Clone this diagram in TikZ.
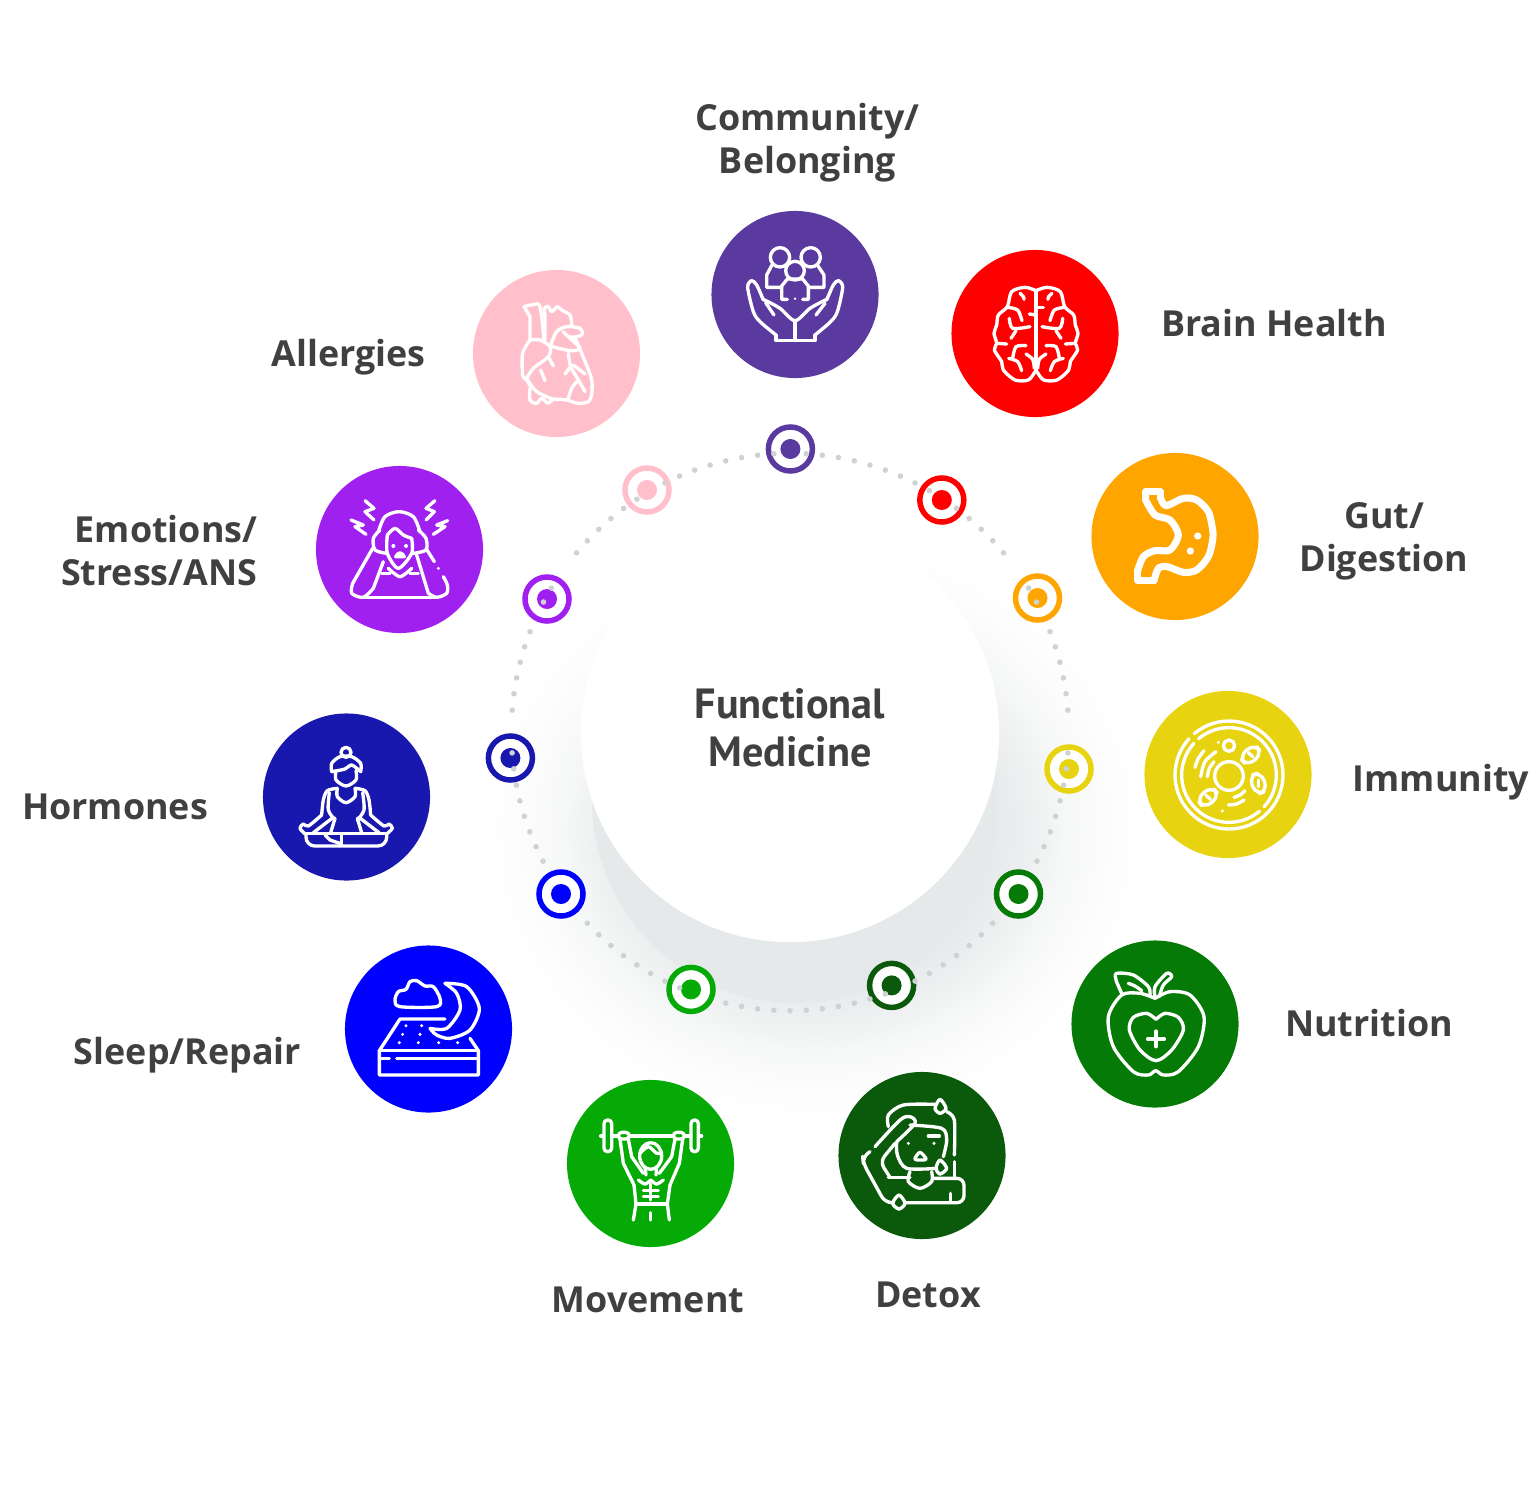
\documentclass[tikz,border=0pt]{standalone}
\usepackage{fontspec}
\usepackage{xcolor}
\usepackage{tikz}
\setmainfont{Open Sans}
\newfontfamily\hubfont{PT Sans}
\usetikzlibrary{positioning}

\definecolor{labelgrey}{HTML}{404042}
\definecolor{dotgrey}{HTML}{CFD2D3}
\definecolor{dishgrey}{HTML}{E6E9EA}
\definecolor{communityc}{HTML}{5A3A9F}
\definecolor{brainc}{HTML}{FF0000}
\definecolor{gutc}{HTML}{FFA500}
\definecolor{immunityc}{HTML}{E8D310}
\definecolor{nutritionc}{HTML}{067A06}
\definecolor{detoxc}{HTML}{0B5A0B}
\definecolor{movementc}{HTML}{06AA06}
\definecolor{sleepc}{HTML}{0000FF}
\definecolor{hormonesc}{HTML}{1818AE}
\definecolor{emotionsc}{HTML}{A020F0}
\definecolor{allergiesc}{HTML}{FFC0CB}

\pgfdeclareradialshading{softshadow}{\pgfpoint{0bp}{0bp}}{
  color(0bp)=(dishgrey); color(12.85bp)=(dishgrey); color(15.45bp)=(dishgrey!75!white);
  color(18.4bp)=(dishgrey!35!white); color(22bp)=(dishgrey!10!white); color(25bp)=(white); color(50bp)=(white)}

\begin{document}
\begin{tikzpicture}[
    x=0.01cm, y=-0.01cm,
    bigdisc/.style={circle, minimum size=1.67cm, inner sep=0pt, outer sep=0pt},
    ringmark/.style={circle, minimum size=0.44cm, inner sep=0pt, fill=white, line width=1.56pt},
    markdot/.style={circle, minimum size=0.2cm, inner sep=0pt},
    ringdot/.style={fill=dotgrey},
    labeltext/.style={align=center, text=labelgrey, inner sep=0pt, font=\fontsize{10.2}{12.25}\selectfont\bfseries},
    hubtext/.style={align=center, text=labelgrey, inner sep=0pt, font=\fontsize{12}{13.6}\selectfont\hubfont\bfseries},
    iconline/.style={draw=white, line width=0.95pt, line cap=round, line join=round},
    icondot/.style={fill=white},
    iconzoom/.style={shift={#1}, scale=0.33333}
]
    \useasboundingbox (0,0) rectangle (1537,1500);

    % Shadow under the middle disc
    \path[shading=softshadow] (815,830) ellipse (340 and 300);
    \fill[dishgrey] (795,800) circle (203);
    \node[circle, fill=white, minimum size=4.18cm, inner sep=0pt] (hubdisc) at (790,733) {};
    \node[hubtext] (hub) at (790,728) {Functional\\Medicine};

    % Discs
    \node[bigdisc, fill=communityc] (community) at (795,294.5) {};
    \node[bigdisc, fill=brainc] (brain) at (1035,333.5) {};
    \node[bigdisc, fill=gutc] (gut) at (1175,536.5) {};
    \node[bigdisc, fill=immunityc] (immunity) at (1228,774.5) {};
    \node[bigdisc, fill=nutritionc] (nutrition) at (1155,1024) {};
    \node[bigdisc, fill=detoxc] (detox) at (922,1155.5) {};
    \node[bigdisc, fill=movementc] (movement) at (650.5,1163.5) {};
    \node[bigdisc, fill=sleepc] (sleep) at (428.5,1029) {};
    \node[bigdisc, fill=hormonesc] (hormones) at (346.5,797) {};
    \node[bigdisc, fill=emotionsc] (emotions) at (399.5,549.5) {};
    \node[bigdisc, fill=allergiesc] (allergies) at (556.5,353.5) {};

    % Labels
    \node[labeltext] (communitytext) at (807.5,143) {Community/\\Belonging};
    \node[labeltext] (braintext) at (1274,323) {Brain Health};
    \node[labeltext] (guttext) at (1384,541) {Gut/\\Digestion};
    \node[labeltext] (immunitytext) at (1441,782) {Immunity};
    \node[labeltext] (nutritiontext) at (1369,1023) {Nutrition};
    \node[labeltext] (detoxtext) at (928,1295) {Detox};
    \node[labeltext] (movementtext) at (648,1300) {Movement};
    \node[labeltext] (sleeptext) at (187.5,1055) {Sleep/Repair};
    \node[labeltext] (hormonestext) at (115,807) {Hormones};
    \node[labeltext, align=right, anchor=east] (emotionstext) at (258,551) {Emotions/\\Stress/ANS};
    \node[labeltext] (allergiestext) at (348.5,357) {Allergies};

    % Ring marks
    \node[ringmark, draw=communityc] (markcommunity) at (790.4,449) {};
    \node[ringmark, draw=brainc] (markbrain) at (941.8,500) {};
    \node[ringmark, draw=gutc] (markgut) at (1037.5,598) {};
    \node[ringmark, draw=immunityc] (markimmunity) at (1069,769) {};
    \node[ringmark, draw=nutritionc] (marknutrition) at (1018.5,894) {};
    \node[ringmark, draw=detoxc] (markdetox) at (891.6,985.4) {};
    \node[ringmark, draw=movementc] (markmovement) at (691,989.4) {};
    \node[ringmark, draw=sleepc] (marksleep) at (561,894) {};
    \node[ringmark, draw=hormonesc] (markhormones) at (510.4,758) {};
    \node[ringmark, draw=emotionsc] (markemotions) at (547,599) {};
    \node[ringmark, draw=allergiesc] (markallergies) at (647,490) {};
    \node[markdot, fill=communityc] (dotcommunity) at (markcommunity) {};
    \node[markdot, fill=brainc] (dotbrain) at (markbrain) {};
    \node[markdot, fill=gutc] (dotgut) at (markgut) {};
    \node[markdot, fill=immunityc] (dotimmunity) at (markimmunity) {};
    \node[markdot, fill=nutritionc] (dotnutrition) at (marknutrition) {};
    \node[markdot, fill=detoxc] (dotdetox) at (markdetox) {};
    \node[markdot, fill=movementc] (dotmovement) at (markmovement) {};
    \node[markdot, fill=sleepc] (dotsleep) at (marksleep) {};
    \node[markdot, fill=hormonesc] (dothormones) at (markhormones) {};
    \node[markdot, fill=emotionsc] (dotemotions) at (markemotions) {};
    \node[markdot, fill=allergiesc] (dotallergies) at (markallergies) {};

    % Dotted ring
    \begin{scope}[shift={(790,732)}]
        \foreach \k in {-15,-14,-13,-12,-11,-10,-8,-7,-6,-5,-4,-3,-2,-1,1,2,3,4,5,6,7,8,9,11,12,13,14,15}
            \fill[ringdot] (\k*3.3333-90:278.7) circle (2.8);
        \foreach \k in {-14,-13,-12,-11,-10,-9,-8,-7,-4,-3,-2,-1,0,1,2,3,4,5,6,8,9,10,11,12,13,14}
            \fill[ringdot] (90-\k*3.3333:278.7) circle (2.8);
        \foreach \a in {58.9,62.2,68.9,72.2,75.5,78.8,82.1,85.5} {
            \fill[ringdot] (\a-90:278.7) circle (2.8);
            \fill[ringdot] (-\a-90:278.7) circle (2.8);
        }
        \foreach \a in {62.4,65.7,69,72.4,75.7,79,82.4,85.7} {
            \fill[ringdot] (90-\a:278.7) circle (2.8);
            \fill[ringdot] (90+\a:278.7) circle (2.8);
        }
    \end{scope}

    % Community icon
    \begin{scope}[iconzoom={(700,200)}]
        \draw[iconline] (240,172) circle (29);
        \draw[iconline] (332,172) circle (29);
        \draw[iconline, fill=communityc] (285,212) circle (28);
        \draw[iconline] (216,195) -- (200,225) -- (200,262) -- (245,262);
        \draw[iconline] (352,195) -- (372,225) -- (372,262) -- (325,262);
        \draw[iconline] (262,298) -- (245,298) -- (245,258) -- (262,237) -- (308,237) -- (325,258) -- (325,298) -- (308,298);
        \fill[icondot] (285,296) circle (4);
        \draw[iconline] (228,405) -- (228,422) -- (345,422) -- (345,405);
        \draw[iconline] (285,420) -- (285,362);
        \draw[iconline, smooth] plot coordinates {(228,405) (180,365) (160,335) (143,262) (155,242) (170,255) (190,300)};
        \draw[iconline, smooth] plot coordinates {(190,298) (240,325) (285,362) (330,325) (380,298)};
        \draw[iconline, smooth] plot coordinates {(345,405) (392,365) (412,335) (428,262) (415,242) (400,255) (380,300)};
        \draw[iconline] (197,308) -- (222,345);
        \draw[iconline] (375,310) -- (348,345);

        % Brain icon
        \draw[iconline] (1008,272) -- (1008,515);
        \foreach \mirror in {1,-1} {
            \begin{scope}[shift={(1008,0)}, xscale=\mirror]
                \draw[iconline, smooth] plot coordinates {(0,272) (-33,262) (-73,275) (-86,320) (-113,345) (-118,375) (-126,400) (-118,430) (-125,450) (-103,485) (-98,510) (-63,540) (-23,540) (-3,515)};
                \draw[iconline, smooth] plot coordinates {(-48,280) (-38,290) (-36,298)};
                \draw[iconline, smooth] plot coordinates {(-86,322) (-55,330) (-42,362)};
                \draw[iconline, smooth] plot coordinates {(-80,355) (-70,385) (-18,380)};
                \draw[iconline] (-60,392) -- (-75,415);
                \draw[iconline] (-118,430) -- (-88,432);
                \draw[iconline, smooth] plot coordinates {(-30,437) (-60,440) (-70,475)};
                \draw[iconline, smooth] plot coordinates {(-82,475) (-55,485) (-43,512)};
                \draw[iconline, smooth] plot coordinates {(-30,462) (-10,478) (-5,505)};
            \end{scope}
        }
        \draw[iconline] (988,342) -- (1008,345);
        \draw[iconline] (1008,322) -- (1030,322);
    \end{scope}

    % Stomach and cell icons
    \begin{scope}[iconzoom={(1080,440)}]
        \draw[iconline, line width=2pt, smooth] plot coordinates {(241,172) (258,197) (310,175) (350,180) (385,215) (398,270) (398,300) (385,350) (350,390) (310,397) (262,380) (235,385) (222,422)};
        \draw[iconline, line width=2pt] (241,172) -- (241,155) -- (197,155) -- (197,180);
        \draw[iconline, line width=2pt] (222,422) -- (172,422) -- (172,395);
        \draw[iconline, line width=2pt, smooth] plot coordinates {(172,395) (190,350) (225,332) (270,330) (295,285) (270,240) (225,225) (197,180)};
        \fill[icondot] (353,288) circle (11);
        \fill[icondot] (331,333) circle (11);

        \draw[iconline] (447,1005) ++(-130:162) arc (-130:222:162);
        \draw[iconline] (447,1005) ++(50:142) arc (50:222:142);
        \draw[iconline] (447,1005) ++(-130:142) arc (-130:42:142);
        \draw[iconline] (447,1008) circle (43);
        \draw[iconline] (447,917) circle (17);
        \fill[icondot] (415,907) circle (5);
        \fill[icondot] (427,1113) circle (5);
        \draw[iconline, rotate around={40:(512,945)}, rounded corners=2.5pt] (482,926) rectangle (542,964);
        \draw[iconline, rotate around={-70:(535,1030)}, rounded corners=2.5pt] (505,1011) rectangle (565,1049);
        \draw[iconline, rotate around={40:(384,1072)}, rounded corners=2.5pt] (354,1053) rectangle (414,1091);
        \draw[iconline] (505,938) -- (518,950);
        \draw[iconline] (535,1020) -- (535,1040);
        \draw[iconline] (377,1065) -- (391,1078);
        \draw[iconline, smooth] plot coordinates {(345,982) (355,955) (372,932)};
        \draw[iconline, smooth] plot coordinates {(362,1010) (375,965) (408,935)};
        \draw[iconline, smooth] plot coordinates {(382,1010) (388,985) (402,965)};
        \draw[iconline, smooth] plot coordinates {(445,1095) (470,1092) (492,1080)};
        \draw[iconline, smooth] plot coordinates {(462,1072) (480,1065) (495,1052)};
    \end{scope}

    % Heart and stressed head icons
    \begin{scope}[iconzoom={(300,260)}]
        \draw[iconline] (690,240) -- (690,170) -- (672,140);
        \draw[iconline, smooth] plot coordinates {(672,140) (700,134) (720,140) (732,240)};
        \draw[iconline, smooth] plot coordinates {(735,240) (735,170) (733,145) (745,140) (755,155) (772,140) (785,150) (810,165) (815,195)};
        \draw[iconline, smooth] plot coordinates {(690,240) (668,280) (668,345) (680,360) (695,385)};
        \draw[iconline, smooth] plot coordinates {(690,385) (690,420) (710,430) (725,415) (745,430) (760,418) (800,420) (835,430) (870,420) (875,360) (845,280) (825,235) (810,232)};
        \draw[iconline, smooth] plot coordinates {(752,255) (770,215) (800,200) (840,205) (845,225) (810,232) (790,215)};
        \draw[iconline, smooth] plot coordinates {(690,240) (720,240) (750,260) (745,290) (700,325) (680,355)};
        \draw[iconline, smooth] plot coordinates {(680,355) (710,395) (760,418)};
        \draw[iconline, smooth] plot coordinates {(810,235) (840,265) (810,272) (750,258)};
        \draw[iconline] (745,290) -- (760,318);
        \draw[iconline] (722,330) -- (735,362);
        \draw[iconline, smooth] plot coordinates {(805,280) (812,320) (835,360) (855,395)};
        \draw[iconline] (812,320) -- (795,342);
        \draw[iconline] (820,315) -- (855,342);
        \draw[iconline, smooth] plot coordinates {(830,365) (815,385) (805,415)};

        \draw[iconline, smooth] plot coordinates {(235,815) (255,770) (297,755) (340,770) (360,815)};
        \draw[iconline, smooth] plot coordinates {(262,825) (285,805) (310,825) (335,835)};
        \draw[iconline, smooth] plot coordinates {(262,825) (262,880) (295,925) (335,880) (335,835)};
        \draw[iconline, smooth] plot coordinates {(240,810) (220,835) (225,870) (260,880)};
        \draw[iconline, smooth] plot coordinates {(355,810) (378,835) (378,870) (340,880)};
        \draw[iconline] (218,865) -- (158,970);
        \draw[iconline, smooth] plot coordinates {(158,970) (155,1000) (190,1012) (220,985)};
        \draw[iconline] (220,985) -- (250,905);
        \draw[iconline] (378,865) -- (403,905);
        \fill[icondot] (415,925) circle (5);
        \draw[iconline, smooth] plot coordinates {(430,950) (442,975) (440,1000) (410,1012) (385,1000)};
        \draw[iconline] (385,1000) -- (350,885);
        \draw[iconline] (190,1012) -- (410,1012);
        \draw[iconline, smooth] plot coordinates {(265,925) (300,950) (335,925)};
        \draw[iconline] (245,940) -- (270,940);
        \draw[iconline] (330,940) -- (355,940);
        \fill[icondot] (280,858) circle (6);
        \fill[icondot] (318,858) circle (6);
        \draw[iconline, fill=white] (287,890) .. controls (295,875) and (305,875) .. (313,890) -- cycle;
        \draw[iconline] (195,722) -- (222,745) -- (195,755) -- (222,780);
        \draw[iconline] (153,780) -- (190,795) -- (165,800) -- (198,823);
        \draw[iconline] (405,722) -- (378,745) -- (403,755) -- (378,780);
        \draw[iconline] (443,782) -- (410,795) -- (435,800) -- (400,823);
    \end{scope}

    % Meditation and sleep icons
    \begin{scope}[iconzoom={(250,700)}]
        \draw[iconline] (288,157) circle (15);
        \draw[iconline, smooth] plot coordinates {(245,215) (245,190) (270,170) (305,170) (332,190) (332,215)};
        \draw[iconline, smooth] plot coordinates {(245,215) (285,207) (305,195) (332,215)};
        \draw[iconline, smooth] plot coordinates {(258,212) (258,240) (288,258) (318,240) (318,212)};
        \draw[iconline, smooth] plot coordinates {(262,265) (232,272) (220,300) (215,345)};
        \draw[iconline, smooth] plot coordinates {(315,265) (345,272) (357,300) (362,345)};
        \draw[iconline, smooth] plot coordinates {(215,345) (175,378) (160,372) (150,385) (165,402)};
        \draw[iconline, smooth] plot coordinates {(362,345) (402,378) (417,372) (427,385) (410,402)};
        \draw[iconline] (165,400) -- (410,400);
        \draw[iconline, smooth] plot coordinates {(238,278) (235,330) (255,360)};
        \draw[iconline, smooth] plot coordinates {(338,278) (342,330) (322,360)};
        \draw[iconline] (250,352) -- (190,398);
        \draw[iconline] (327,352) -- (387,398);
        \draw[iconline, smooth] plot coordinates {(262,265) (262,290) (288,308) (315,290) (315,265)};
        \draw[iconline] (255,355) -- (242,398);
        \draw[iconline] (322,355) -- (335,398);
        \draw[iconline, rounded corners=2.5pt] (168,403) -- (168,438) -- (410,438) -- (410,403);
        \draw[iconline] (275,403) -- (275,432);
        \draw[iconline] (225,405) -- (240,420) -- (275,432);

        \draw[iconline, smooth cycle] plot coordinates {(450,920) (435,900) (445,875) (468,868) (480,845) (500,842) (525,858) (550,860) (570,895) (560,920)};
        \draw[iconline, smooth] plot coordinates {(585,850) (650,860) (688,925) (660,990) (600,1015) (560,1005) (540,985)};
        \draw[iconline, smooth] plot coordinates {(540,985) (590,985) (630,930) (620,880) (585,850)};
        \draw[iconline] (585,957) -- (450,957) -- (388,1052) -- (388,1125) -- (685,1125) -- (685,1052) -- (660,1015);
        \draw[iconline] (388,1052) -- (685,1052);
        \draw[iconline] (392,1076) -- (418,1076);
        \draw[iconline] (440,1076) -- (685,1076);
        \foreach \spotx/\spoty in {468/977, 515/977, 458/1003, 510/1003, 448/1028, 505/1028, 566/1028, 623/1028}
            \fill[icondot] (\spotx,\spoty) circle (5);
    \end{scope}

    % Weight lifter and sweating face icons
    \begin{scope}[iconzoom={(560,1060)}]
        \draw[iconline] (122,228) -- (425,228);
        \draw[iconline, rounded corners=1pt, fill=movementc] (132,180) rectangle (155,275);
        \draw[iconline, rounded corners=1pt, fill=movementc] (393,180) rectangle (415,275);
        \draw[iconline, rounded corners=1pt, fill=movementc] (175,217) rectangle (208,237);
        \draw[iconline, rounded corners=1pt, fill=movementc] (340,217) rectangle (373,237);
        \draw[iconline] (180,237) -- (190,310) -- (222,375);
        \draw[iconline] (205,237) -- (215,290) -- (250,340);
        \draw[iconline] (368,237) -- (358,310) -- (330,375);
        \draw[iconline] (345,237) -- (335,290) -- (298,340);
        \draw[iconline] (272,288) ellipse (33 and 40);
        \draw[iconline, smooth] plot coordinates {(240,280) (265,260) (290,280) (305,278)};
        \draw[iconline] (255,322) -- (258,345);
        \draw[iconline] (290,322) -- (288,345);
        \draw[iconline, smooth] plot coordinates {(235,360) (255,372) (272,360)};
        \draw[iconline, smooth] plot coordinates {(310,360) (290,372) (272,360)};
        \draw[iconline] (250,392) -- (295,392);
        \draw[iconline] (250,410) -- (295,410);
        \draw[iconline] (272,372) -- (272,420);
        \draw[iconline] (222,375) -- (228,432) -- (220,480);
        \draw[iconline] (330,375) -- (322,432) -- (328,480);
        \draw[iconline] (228,432) -- (322,432);
        \draw[iconline] (272,458) -- (272,480);

        \draw[iconline, smooth] plot coordinates {(985,200) (985,165) (1030,135) (1125,133)};
        \draw[iconline, smooth cycle] plot coordinates {(1140,118) (1158,145) (1140,160) (1125,145)};
        \draw[iconline, smooth] plot coordinates {(1160,155) (1183,180) (1183,285)};
        \draw[iconline] (1183,305) -- (1183,355);
        \draw[iconline] (985,352) -- (1050,352);
        \draw[iconline, rounded corners=2pt] (1120,355) -- (1212,355) -- (1212,428) -- (1035,428);
        \draw[iconline, rounded corners=2pt] (1000,428) -- (975,428) -- (910,310) -- (908,290) -- (930,275);
        \draw[iconline, smooth] plot coordinates {(945,260) (1020,180) (1050,170) (1065,190) (1010,245)};
        \draw[iconline, rounded corners=2pt] (1005,250) -- (960,305) -- (990,352);
        \draw[iconline, smooth] plot coordinates {(1050,195) (1145,205) (1160,240) (1150,290)};
        \draw[iconline, smooth] plot coordinates {(1010,245) (1012,285) (1040,325) (1130,325)};
        \draw[iconline] (1105,228) -- (1138,228);
        \fill[icondot] (1045,250) circle (5);
        \fill[icondot] (1122,250) circle (5);
        \draw[iconline, smooth cycle] plot coordinates {(1065,298) (1080,277) (1098,298)};
        \draw[iconline, smooth] plot coordinates {(1050,335) (1045,365) (1080,385) (1115,365) (1115,335)};
        \draw[iconline, smooth cycle] plot coordinates {(1140,300) (1160,325) (1140,342) (1128,325)};
        \draw[iconline, smooth cycle] plot coordinates {(1017,405) (1035,430) (1017,447) (998,430)};
        \draw[iconline] (1172,400) -- (1172,425);
    \end{scope}

    % Apple icon
    \begin{scope}[iconzoom={(1060,930)}]
        \draw[iconline, smooth] plot coordinates {(285,205) (240,190) (185,195) (145,260) (160,350) (220,425) (265,435) (287,422) (310,435) (355,425) (415,350) (432,260) (390,195) (330,185) (285,205)};
        \draw[iconline, smooth] plot coordinates {(285,200) (285,170) (320,130) (335,140) (310,165) (298,200)};
        \draw[iconline, smooth] plot coordinates {(185,190) (168,150) (170,130) (220,135) (265,170) (270,195)};
        \draw[iconline, smooth] plot coordinates {(205,160) (225,168) (245,182)};
        \draw[iconline, smooth] plot coordinates {(288,268) (260,250) (220,262) (208,300) (240,360) (288,392) (335,360) (370,300) (355,262) (315,250) (288,268)};
        \draw[iconline] (288,303) -- (288,350);
        \draw[iconline] (263,327) -- (313,327);
    \end{scope}
\end{tikzpicture}
\end{document}
